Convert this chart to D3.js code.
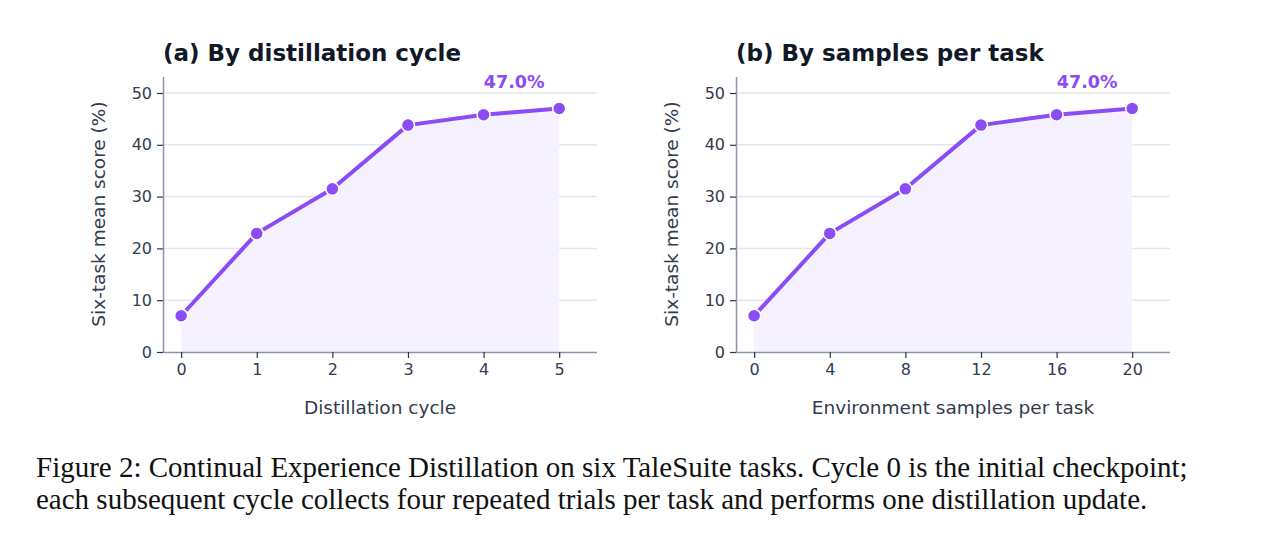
<!DOCTYPE html>
<html><head><meta charset="utf-8">
<script src="https://cdn.jsdelivr.net/npm/d3@7"></script>
<style>body{margin:0;background:#fff}svg{display:block}</style>
</head><body><svg id="c" width="1263" height="541"></svg>
<script>
const cycles = [0,1,2,3,4,5];
const samples = [0,4,8,12,16,20];
const scores = [7.0,22.9,31.5,43.8,45.8,47.0];
const yTicks = [0,10,20,30,40,50];
const titles = ["(a) By distillation cycle","(b) By samples per task"];
const xLabels = ["Distillation cycle","Environment samples per task"];
const yLabel = "Six-task mean score (%)";
const peakLabel = "47.0%";
const caption = ["Figure 2: Continual Experience Distillation on six TaleSuite tasks. Cycle 0 is the initial checkpoint;",
"each subsequent cycle collects four repeated trials per task and performs one distillation update."];

const svg = d3.select("#c");
const purple = "#8b4cf7", axisC = "#8a94aa", textC = "#333b4d";
const panels = [{x0:163, xs:cycles, dom:[-0.24,5.5]},{x0:736, xs:samples, dom:[-0.96,22]}];
const y = d3.scaleLinear().domain([0,50]).range([352,93]);
panels.forEach((p,i)=>{
  const x = d3.scaleLinear().domain(p.dom).range([p.x0, p.x0+434]);
  const g = svg.append("g").style("font-family","DejaVu Sans");
  g.selectAll(".gr").data(yTicks.slice(1)).enter().append("line")
    .attr("x1",p.x0).attr("x2",p.x0+434).attr("y1",d=>y(d)).attr("y2",d=>y(d))
    .attr("stroke","#e3e5f0").attr("stroke-width",1.5);
  const data = p.xs.map((v,k)=>[v,scores[k]]);
  g.append("path").datum(data).attr("fill","#f6f1fe")
    .attr("d",d3.area().x(d=>x(d[0])).y0(y(0)).y1(d=>y(d[1])));
  const ya = g.append("g").attr("transform",`translate(${p.x0},0)`)
    .call(d3.axisLeft(y).tickValues(yTicks).tickSize(6).tickPadding(5));
  const xa = g.append("g").attr("transform",`translate(0,352)`)
    .call(d3.axisBottom(x).tickValues(p.xs).tickFormat(d3.format("d")).tickSize(6).tickPadding(6));
  [ya,xa].forEach(a=>{
    a.select(".domain").attr("stroke",axisC).attr("stroke-width",1.5);
    a.selectAll(".tick line").attr("stroke","#2d3446").attr("stroke-width",1.2);
    a.selectAll("text").attr("fill",textC).style("font-size","16px").style("font-family","DejaVu Sans");
  });
  xa.select(".domain").attr("d",`M${p.x0},0.5H${p.x0+434}`);
  ya.select(".domain").attr("d",`M0.5,${y(0)}V${77}`);
  g.append("path").datum(data).attr("fill","none").attr("stroke",purple).attr("stroke-width",4)
    .attr("stroke-linejoin","round").attr("d",d3.line().x(d=>x(d[0])).y(d=>y(d[1])));
  g.selectAll(".pt").data(data).enter().append("circle")
    .attr("cx",d=>x(d[0])).attr("cy",d=>y(d[1])).attr("r",6.5)
    .attr("fill",purple).attr("stroke","#fff").attr("stroke-width",1.5);
  g.append("text").attr("x",x(p.xs[5])-45).attr("y",88).attr("text-anchor","middle")
    .attr("fill",purple).style("font-size","17.5px").style("font-weight","bold").text(peakLabel);
  g.append("text").attr("x",p.x0).attr("y",61).attr("fill","#111827")
    .style("font-size","23px").style("font-weight","bold").text(titles[i]);
  g.append("text").attr("x",p.x0+217).attr("y",414).attr("text-anchor","middle")
    .attr("fill",textC).style("font-size","18.5px").text(xLabels[i]);
  g.append("text").attr("transform",`translate(${p.x0-58},214) rotate(-90)`).attr("text-anchor","middle")
    .attr("fill",textC).style("font-size","18.5px").text(yLabel);
});
caption.forEach((t,i)=>svg.append("text").attr("x",36).attr("y",477+i*32)
  .style("font-family","Liberation Serif").style("font-size","29px").attr("fill","#111").text(t));
</script></body></html>
